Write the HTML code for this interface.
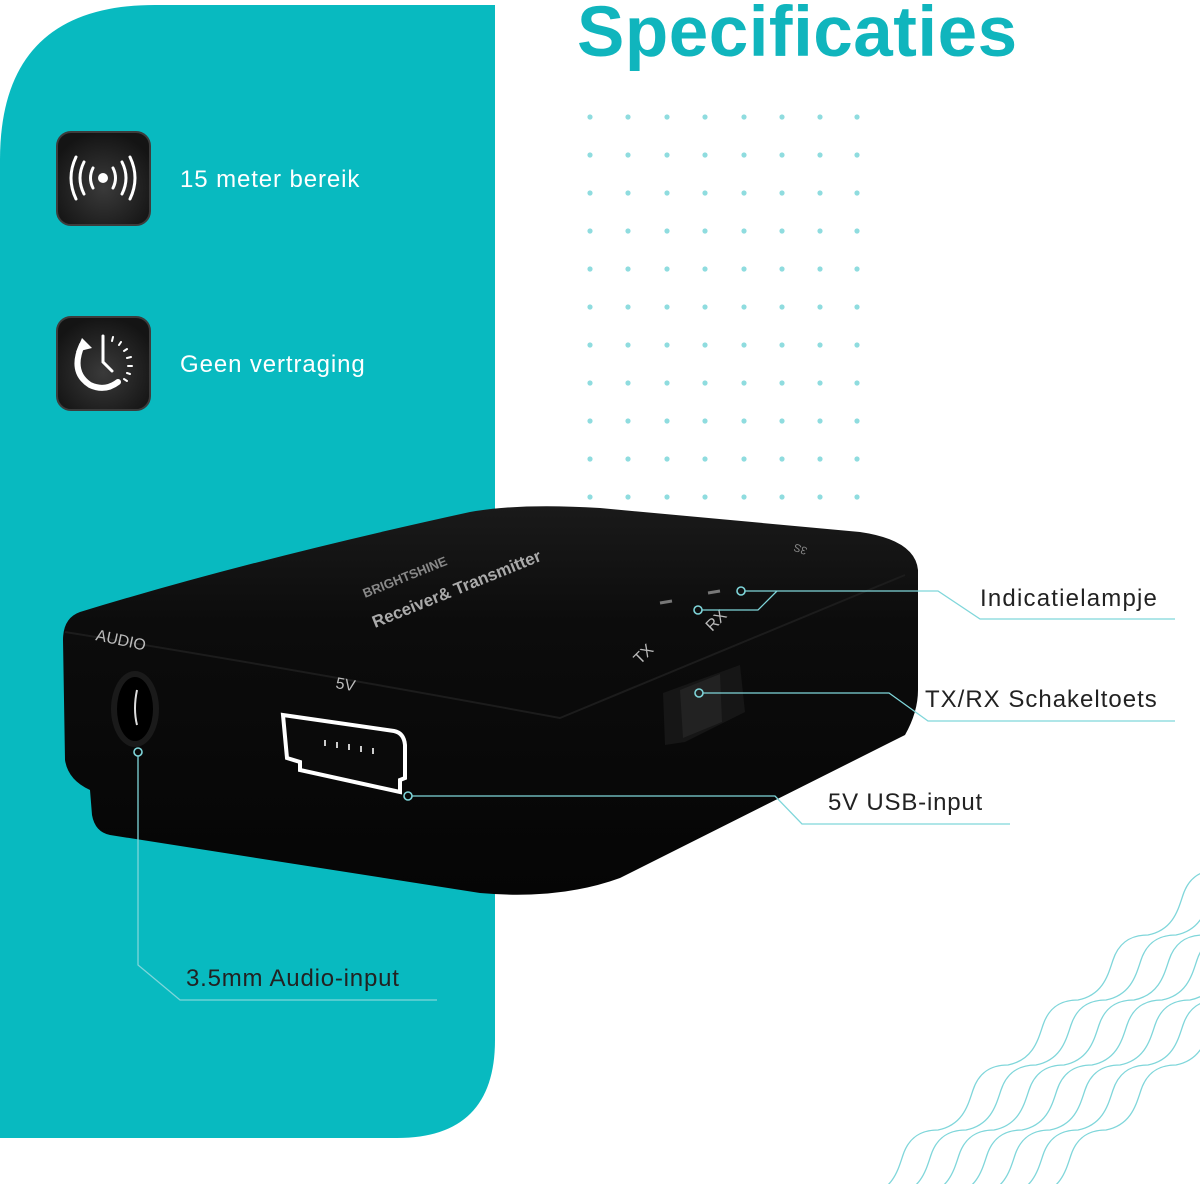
<!DOCTYPE html>
<html><head><meta charset="utf-8"><style>
html,body{margin:0;padding:0;background:#fff;}
body{width:1200px;height:1184px;overflow:hidden;position:relative;font-family:"Liberation Sans",sans-serif;}
svg{position:absolute;left:0;top:0;}
</style></head><body>
<svg width="1200" height="1184" viewBox="0 0 1200 1184" xmlns="http://www.w3.org/2000/svg">
<defs>
<radialGradient id="ib" cx="50%" cy="60%" r="60%"><stop offset="0" stop-color="#3a3a3a"/><stop offset="1" stop-color="#141414"/></radialGradient>
<linearGradient id="dev" x1="0" y1="0" x2="0" y2="1"><stop offset="0" stop-color="#1a1a1a"/><stop offset="0.3" stop-color="#0c0c0c"/><stop offset="1" stop-color="#050505"/></linearGradient>
</defs>
<path d="M0 160 Q0 5 155 5 L495 5 L495 1040 Q495 1138 397 1138 L0 1138 Z" fill="#08bac0"/>
<g fill="#8fdcdf" id="dots"></g>
<text x="577" y="56" font-family="Liberation Sans" font-weight="bold" font-size="71" letter-spacing="0.5" fill="#10b5bd">Specificaties</text>
<rect x="57" y="132" width="93" height="93" rx="14" fill="url(#ib)" stroke="#3c3c3c" stroke-width="2"/>
<circle cx="103" cy="178" r="5" fill="#fff"/>
<g fill="none" stroke="#fff" stroke-width="3" stroke-linecap="round">
<path d="M93 168 Q88 178 93 188"/><path d="M113 168 Q118 178 113 188"/>
<path d="M84 162 Q76 178 84 194"/><path d="M122 162 Q130 178 122 194"/>
<path d="M76 157 Q66 178 76 199"/><path d="M130 157 Q140 178 130 199"/>
</g>
<rect x="57" y="317" width="93" height="93" rx="14" fill="url(#ib)" stroke="#3c3c3c" stroke-width="2"/>
<g fill="none" stroke="#fff" stroke-linecap="round">
<path d="M82 345 Q70 372 90 385 Q105 392 118 382" stroke-width="6"/>
<path d="M103 336 L103 362 L112 371" stroke-width="3"/>
<path d="M113 337 L112 341 M121 342 L119 345 M127 349 L124 351 M131 357 L127 358 M132 366 L128 366 M130 374 L127 373 M127 381 L124 379" stroke-width="2"/>
</g>
<path d="M76 352 L82 338 L92 348 Z" fill="#fff"/>
<text x="180" y="187" font-size="24" letter-spacing="0.9" fill="#fff">15 meter bereik</text>
<text x="180" y="372" font-size="24" letter-spacing="0.9" fill="#fff">Geen vertraging</text>
<g fill="none" stroke="#7fd6da" stroke-width="1.3" id="waves"></g>
<path d="M80 612 Q250 560 470 512 Q520 503 600 508 L860 532 Q915 540 918 570 L918 690 Q918 712 905 735 L620 878 Q560 900 480 893 L110 835 Q95 832 92 815 L90 790 Q68 780 65 760 L63 640 Q63 618 80 612 Z" fill="url(#dev)"/>
<path d="M65 632 Q300 670 560 718 L905 575" fill="none" stroke="#1c1c1c" stroke-width="2"/>
<ellipse cx="135" cy="709" rx="24" ry="38" fill="#1a1a1a"/>
<ellipse cx="135" cy="709" rx="18" ry="32" fill="#000"/>
<path d="M137 690 Q133 709 137 725" stroke="#ddd" stroke-width="2" fill="none"/>
<path d="M283 715 L394 731 Q404 733 405 745 L405 778 L400 780 L400 792 L300 770 L300 762 L287 758 Z" fill="#0a0a0a" stroke="#fff" stroke-width="4"/>
<g stroke="#ccc" stroke-width="2"><path d="M325 740 v6 M337 742 v6 M349 744 v6 M361 746 v6 M373 748 v6"/></g>
<path d="M663 693 L740 665 L745 712 L685 742 L665 745 Z" fill="#161616"/>
<path d="M680 690 L720 674 L722 722 L683 738 Z" fill="#222"/>
<g fill="#bbb" font-size="16">
<text x="95" y="640" transform="rotate(12 95 640)">AUDIO</text>
<text x="335" y="688" transform="rotate(10 335 688)">5V</text>
<text x="640" y="665" transform="rotate(-45 640 665)">TX</text>
<text x="712" y="632" transform="rotate(-45 712 632)">RX</text>
<text x="375" y="628" font-size="17" font-weight="bold" fill="#aaa" transform="rotate(-22 375 628)">Receiver&amp; Transmitter</text>
<text x="365" y="598" font-size="13" font-weight="bold" fill="#888" transform="rotate(-22 365 598)">BRIGHTSHINE</text>
<text x="808" y="548" font-size="11" fill="#888" transform="rotate(-160 808 548)">3S</text>
</g>
<path d="M660 603 L672 601 M708 593 L720 591" stroke="#777" stroke-width="3"/>
<g fill="none" stroke="#7fd6da" stroke-width="1.3">
<path d="M745 591 L938 591 L980 619 L1175 619"/>
<path d="M777 591 L758 610 L702 610"/>
<path d="M703 693 L889 693 L928 721 L1175 721"/>
<path d="M412 796 L775 796 L802 824 L1010 824"/>
<path d="M138 756 L138 965 L180 1000 L437 1000"/>
<circle cx="741" cy="591" r="4" stroke-width="1.6"/>
<circle cx="698" cy="610" r="4" stroke-width="1.6"/>
<circle cx="699" cy="693" r="4" stroke-width="1.6"/>
<circle cx="408" cy="796" r="4" stroke-width="1.6"/>
<circle cx="138" cy="752" r="4" stroke-width="1.6"/>
</g>
<g font-size="24" letter-spacing="0.8" fill="#222">
<text x="980" y="606" letter-spacing="1.2">Indicatielampje</text>
<text x="925" y="707" letter-spacing="1">TX/RX Schakeltoets</text>
<text x="828" y="810">5V USB-input</text>
<text x="186" y="986">3.5mm Audio-input</text>
</g>
</svg>
<script>
(function(){
var ns="http://www.w3.org/2000/svg";
var d=document.getElementById("dots");
var xs=[590,628,667,705,744,782,820,857];
for(var r=0;r<12;r++){var y=117+r*38;for(var c=0;c<8;c++){
 var e=document.createElementNS(ns,"circle");e.setAttribute("cx",xs[c]);e.setAttribute("cy",y);e.setAttribute("r",2.6);d.appendChild(e);}}
var w=document.getElementById("waves");
var seg="";for(var k=0;k<6;k++)seg+=" c 25 -5 30 -25 35 -40 c 5 -15 15 -25 35 -25";
for(var i=0;i<7;i++){var p=document.createElementNS(ns,"path");
 p.setAttribute("d","M"+(868+i*28)+" 1195"+seg);w.appendChild(p);}
})();
</script>
</body></html>
